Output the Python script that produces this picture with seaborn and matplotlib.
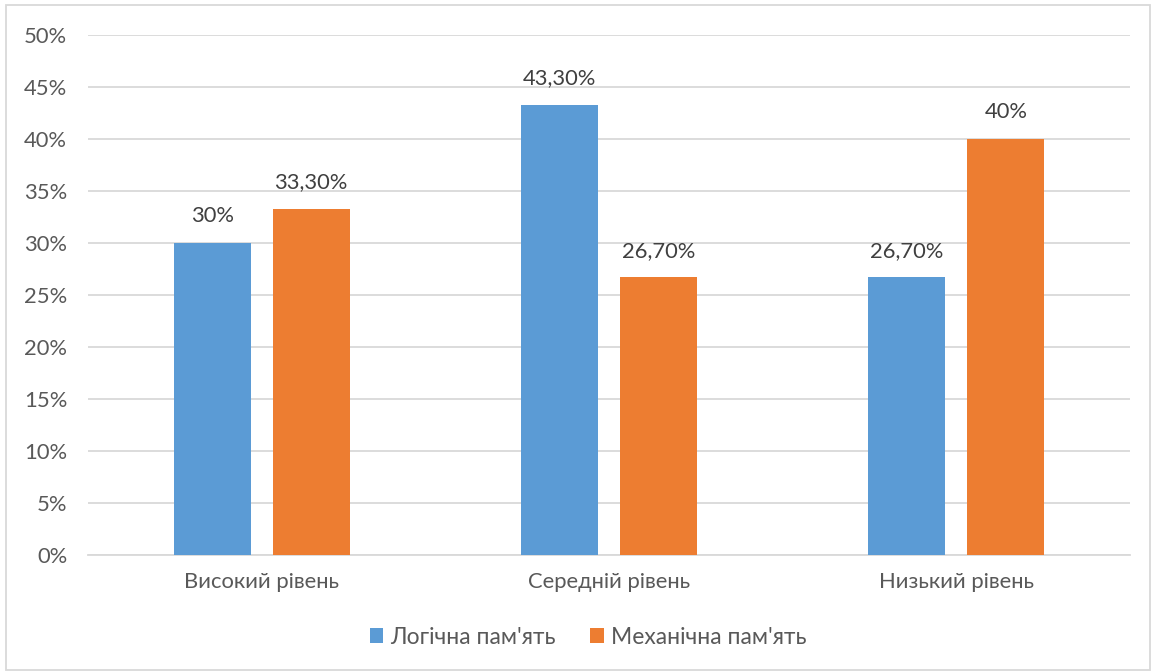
import matplotlib
matplotlib.use("Agg")
import matplotlib.pyplot as plt
import seaborn as sns
import pandas as pd
from matplotlib.patches import Rectangle

categories = ["Високий рівень", "Середній рівень", "Низький рівень"]
series_names = ["Логічна пам'ять", "Механічна пам'ять"]
logical = [30.0, 43.3, 26.7]
mechanical = [33.3, 26.7, 40.0]
logical_labels = ["30%", "43,30%", "26,70%"]
mechanical_labels = ["33,30%", "26,70%", "40%"]
yticks = [0, 5, 10, 15, 20, 25, 30, 35, 40, 45, 50]

df = pd.DataFrame({
    "category": categories * 2,
    "series": [series_names[0]] * 3 + [series_names[1]] * 3,
    "value": logical + mechanical,
})

sns.set_theme(style="white")
plt.rcParams["font.family"] = ["Lato", "DejaVu Sans"]
TXT = "#595959"
LBL = "#404040"
FS = 15.8

fig = plt.figure(figsize=(11.52, 6.72), dpi=100)
ax = fig.add_axes([88 / 1152, 1 - 555 / 672, (1130 - 88) / 1152, (555 - 35) / 672])

sns.barplot(data=df, x="category", y="value", hue="series",
            palette=["#5B9BD5", "#ED7D31"], width=0.57, gap=0.22,
            order=categories, hue_order=series_names, ax=ax, zorder=3,
            saturation=1, legend=True, linewidth=0, edgecolor="none")

ax.set_xlim(-0.5, 2.5)
ax.set_ylim(0, 50)
ax.set_yticks(yticks)
ax.set_yticklabels([f"{t}%" for t in yticks])
ax.yaxis.grid(True, color="#D9D9D9", linewidth=1.3, zorder=0)
ax.set_axisbelow(True)
for s in ["top", "right", "left"]:
    ax.spines[s].set_visible(False)
ax.spines["bottom"].set_color("#D9D9D9")
ax.spines["bottom"].set_linewidth(1.3)
ax.tick_params(axis="y", length=0, pad=15, labelsize=FS, labelcolor=TXT)
ax.tick_params(axis="x", length=0, pad=12, labelsize=FS, labelcolor=TXT)
ax.set_xlabel("")
ax.set_ylabel("")

for cont, labs in zip(ax.containers, [logical_labels, mechanical_labels]):
    ax.bar_label(cont, labels=labs, padding=12, fontsize=FS, color=LBL)

leg = ax.get_legend()
handles = leg.legend_handles
leg.remove()
fig.legend(handles, series_names, loc="center", bbox_to_anchor=(588 / 1152, 1 - 637 / 672),
           ncol=2, frameon=False, fontsize=FS + 0.7, labelcolor=TXT,
           handlelength=0.6, handleheight=0.6, handletextpad=0.3, columnspacing=1.5)

fig.patches.append(Rectangle((6 / 1152, 2 / 672), 1144 / 1152, 665 / 672,
                             transform=fig.transFigure, fill=False,
                             edgecolor="#D9D9D9", linewidth=1.3))

fig.savefig("out.png", dpi=100, facecolor="white")
